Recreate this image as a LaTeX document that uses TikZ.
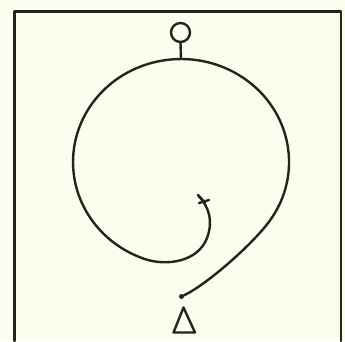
\documentclass[tikz,border=0pt]{standalone}
\begin{document}
\begin{tikzpicture}[x=1pt,y=-1pt,line cap=round,line join=round,
  ink/.style={draw=inkc,line width=2.4pt},
  dotnode/.style={circle,fill=inkc,inner sep=0pt,minimum size=5pt}]
\definecolor{inkc}{RGB}{36,36,28}
\definecolor{paper}{RGB}{252,252,238}
\fill[paper] (0,0) rectangle (345,341);
\useasboundingbox (0,0) rectangle (345,341);
% frame (open at the bottom)
\draw[ink] (14.5,341) -- (14.5,11.5) -- (341,11.5) -- (341,341);
% small circle at the top with its stem
\node[ink,circle,minimum size=19pt,inner sep=0pt] (top) at (180.5,32.5) {};
\coordinate (ctop) at (181,59);
\draw[ink] (top.south) -- (ctop);
% start dot and triangle
\node[dotnode] (dot) at (181.5,296.5) {};
\draw[ink] (183.5,307.5) -- (195,332.5) -- (173.5,332.5) -- cycle;
% spiral path
\coordinate (tip) at (198,195);
\coordinate (arcstart) at (269.5,221.1);
\draw[ink] (dot) .. controls (206,285) and (252,245) .. (arcstart)
  arc[start angle=35,end angle=-250,x radius=108,y radius=103]
  .. controls (166,266.5) and (198,262) .. (207,238)
  .. controls (213,222) and (210,208) .. (tip);
% cross at the end
\draw[ink] (tip) -- (205,203);
\draw[ink] (199,203) -- (209,200);
\end{tikzpicture}
\end{document}
